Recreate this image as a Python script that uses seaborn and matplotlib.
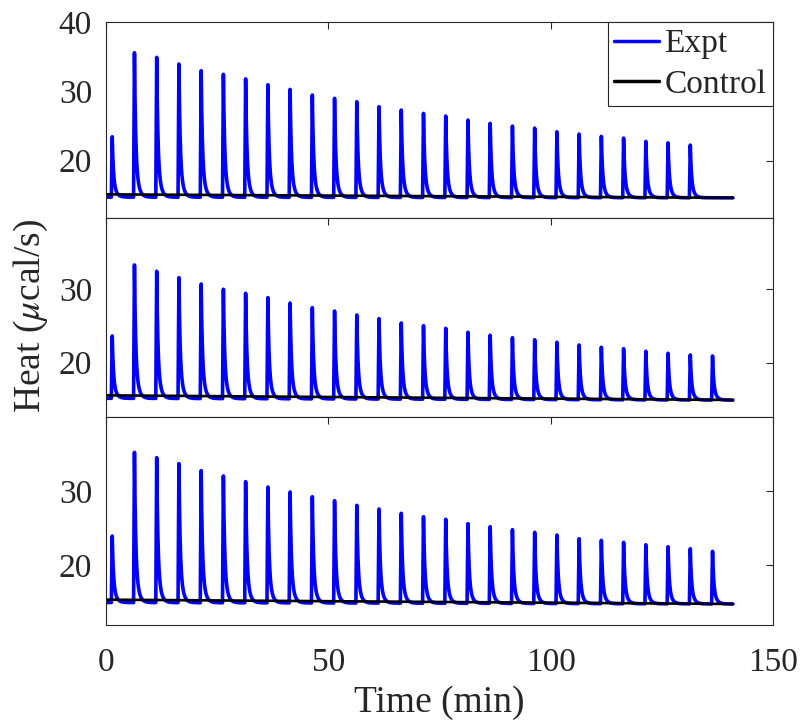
import numpy as np
import pandas as pd
import matplotlib
matplotlib.use("Agg")
import matplotlib.pyplot as plt
import seaborn as sns
from matplotlib.lines import Line2D

# ---------------- data ----------------
# injection times (min)
inj_times = [1.2, 6.2, 11.2, 16.2, 21.2, 26.2, 31.2, 36.2, 41.2, 46.2,
             51.2, 56.2, 61.2, 66.2, 71.2, 76.2, 81.2, 86.2, 91.2, 96.2,
             101.2, 106.2, 111.2, 116.2, 121.2, 126.2, 131.2, 136.2]

# peak maxima (ucal/s) for the three panels
peaks_top = [23.45, 35.57, 34.9, 33.94, 32.97, 32.45, 31.8, 30.95, 30.28, 29.47,
             28.99, 28.5, 27.78, 27.3, 26.82, 26.44, 25.86, 25.38, 24.99, 24.7,
             24.17, 23.84, 23.5, 23.26, 22.78, 22.58, 22.25]
peaks_mid = [23.64, 33.31, 32.45, 31.58, 30.72, 30.0, 29.45, 28.86, 28.13, 27.5,
             27.04, 26.5, 26.0, 25.41, 25.04, 24.68, 24.14, 23.73, 23.41, 23.13,
             22.78, 22.41, 22.1, 21.91, 21.55, 21.28, 21.05, 20.91]
peaks_bot = [23.94, 35.2, 34.49, 33.68, 32.74, 32.02, 31.26, 30.54, 29.87, 29.24,
             28.7, 28.07, 27.58, 27.0, 26.54, 26.19, 25.6, 25.2, 24.79, 24.44,
             24.08, 23.58, 23.36, 23.09, 22.77, 22.5, 22.23, 21.88]

# baseline (start, end) of each trace
base_times = [0.0, 141.0]
base_expt_top = [14.75, 14.65]
base_ctrl_top = [15.15, 14.65]
base_expt_mid = [15.15, 14.9]
base_ctrl_mid = [15.55, 14.92]
base_expt_bot = [15.0, 14.8]
base_ctrl_bot = [15.38, 14.8]

# panel y limits
ylims = [(11.74, 40.0), (12.6, 39.71), (11.97, 39.96)]
yticks = [[20, 30, 40], [20, 30], [20, 30]]


def expt_trace(t, times, heights, base_vals):
    base = np.interp(t, base_times, base_vals)
    y = base.copy()
    for ti, h in zip(times, heights):
        amp = h - np.interp(ti, base_times, base_vals)
        dt = t - ti
        rise = (dt >= 0) & (dt < 0.2)
        y[rise] += amp * dt[rise] / 0.2
        dec = dt >= 0.2
        d = dt[dec] - 0.2
        y[dec] += amp * (0.62 * np.exp(-d / 0.25) + 0.38 * np.exp(-d / 0.6))
    return y


t = np.arange(0.0, 141.0, 0.02)
panels = [
    (inj_times[:len(peaks_top)], peaks_top, base_expt_top, base_ctrl_top),
    (inj_times[:len(peaks_mid)], peaks_mid, base_expt_mid, base_ctrl_mid),
    (inj_times[:len(peaks_bot)], peaks_bot, base_expt_bot, base_ctrl_bot),
]

# ---------------- figure ----------------
sns.set_style("white")
plt.rcParams["font.family"] = ["Liberation Serif", "DejaVu Serif"]
plt.rcParams["mathtext.fontset"] = "stix"

fig = plt.figure(figsize=(8.04, 7.25), dpi=100)
W = 804.0
H = 725.0
left = 106 / W
width = (773 - 106) / W
edges = [22, 218, 417, 625]

axes = []
for i, (times, pk, be, bc) in enumerate(panels):
    top_px, bot_px = edges[i], edges[i + 1]
    ax = fig.add_axes([left, 1 - bot_px / H, width, (bot_px - top_px) / H])
    axes.append(ax)
    df_e = pd.DataFrame({"t": t, "heat": expt_trace(t, times, pk, be)})
    df_c = pd.DataFrame({"t": t, "heat": np.interp(t, base_times, bc)})
    sns.lineplot(data=df_e, x="t", y="heat", ax=ax, color="#0000ff",
                 linewidth=2.6, estimator=None, sort=False)
    sns.lineplot(data=df_c, x="t", y="heat", ax=ax, color="black",
                 linewidth=1.9, estimator=None, sort=False)
    ax.set_xlim(0, 150)
    ax.set_ylim(*ylims[i])
    ax.set_yticks(yticks[i])
    ax.set_xticks([0, 50, 100, 150])
    ax.set_xlabel("")
    ax.set_ylabel("")
    ax.tick_params(direction="in", length=5, width=0.8, top=True, right=True,
                   labelsize=24, colors="#262626", pad=10)
    ax.tick_params(axis="x", pad=16)
    for s in ax.spines.values():
        s.set_color("#262626")
        s.set_linewidth(0.8)
    if i < 2:
        ax.set_xticklabels([])
    for lab in ax.get_xticklabels() + ax.get_yticklabels():
        lab.set_color("#262626")

handles = [Line2D([], [], color="#0000ff", lw=2.5),
           Line2D([], [], color="black", lw=2.5)]
leg = axes[0].legend(handles, ["Expt", "Control"], loc="upper right",
                     borderaxespad=0, fancybox=False, framealpha=1,
                     edgecolor="#262626", fontsize=24, handlelength=1.35,
                     handletextpad=0.15, borderpad=0.2, labelspacing=0.3)
leg.get_frame().set_linewidth(0.8)

fig.text(31 / W, 1 - 316 / H, r"Heat ($\mu$cal/s)", rotation=90,
         ha="center", va="center", fontsize=27, color="#262626")
fig.text(439.5 / W, 1 - 703 / H, "Time (min)", ha="center", va="center",
         fontsize=27, color="#262626")

fig.savefig("out.png", dpi=100)
